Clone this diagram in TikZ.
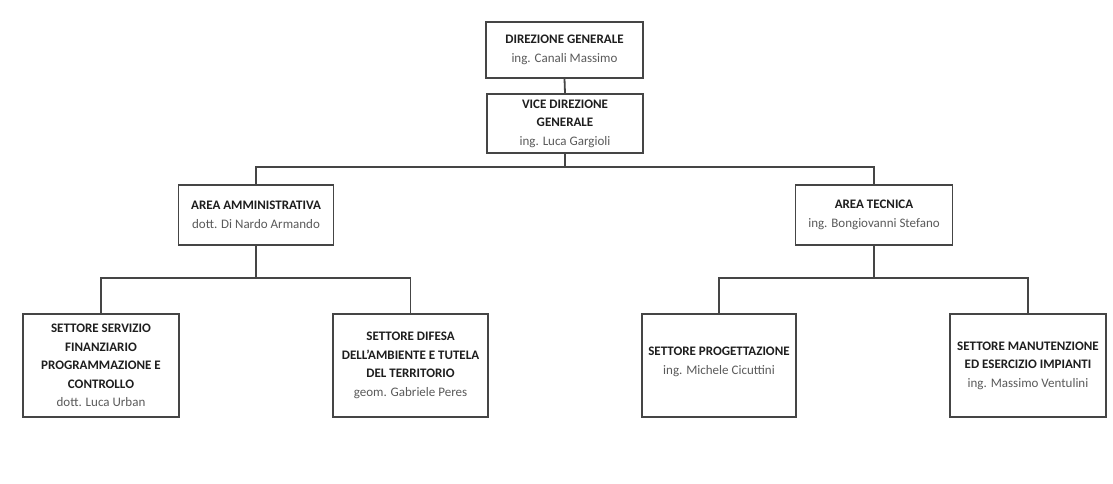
\documentclass[tikz,border=0pt]{standalone}
\usepackage{fontspec}
\setmainfont{Carlito}
\definecolor{boxline}{HTML}{454545}
\definecolor{nametext}{HTML}{5A5A5A}
\definecolor{titletext}{HTML}{1E1E1E}
\begin{document}
\begin{tikzpicture}[x=1pt,y=-1pt,
  orgbox/.style={draw=boxline,line width=1.8pt,fill=white,align=center,inner sep=1pt,
    font=\fontsize{13}{18.5}\selectfont,text=titletext},
  link/.style={draw=boxline,line width=1.8pt}]
\useasboundingbox[fill=white] (0,0) rectangle (1113,483);
\newcommand{\nm}[1]{\textcolor{nametext}{#1}}
\node[orgbox,minimum width=157pt,minimum height=56pt] (dg) at (564.5,50)
  {\textbf{DIREZIONE GENERALE}\\\nm{ing. Canali Massimo}};
\node[orgbox,minimum width=156pt,minimum height=59pt] (vdg) at (565,123.5)
  {\textbf{VICE DIREZIONE}\\\textbf{GENERALE}\\\nm{ing. Luca Gargioli}};
\node[orgbox,minimum width=155pt,minimum height=60pt] (aa) at (256,215)
  {\textbf{AREA AMMINISTRATIVA}\\\nm{dott. Di Nardo Armando}};
\node[orgbox,minimum width=157pt,minimum height=60pt] (at) at (874,215)
  {\textbf{AREA TECNICA}\\\nm{ing. Bongiovanni Stefano}};
\node[orgbox,minimum width=156pt,minimum height=103pt] (s1) at (101,365.5)
  {\textbf{SETTORE SERVIZIO}\\\textbf{FINANZIARIO}\\\textbf{PROGRAMMAZIONE E}\\\textbf{CONTROLLO}\\\nm{dott. Luca Urban}};
\node[orgbox,minimum width=155pt,minimum height=103pt] (s2) at (410.5,365.5)
  {\textbf{SETTORE DIFESA}\\\textbf{DELL'AMBIENTE E TUTELA}\\\textbf{DEL TERRITORIO}\\\nm{geom. Gabriele Peres}};
\node[orgbox,minimum width=154pt,minimum height=103pt] (s3) at (719,365.5)
  {\textbf{SETTORE PROGETTAZIONE}\\\nm{ing. Michele Cicuttini}\\[-9pt]};
\node[orgbox,minimum width=156pt,minimum height=103pt] (s4) at (1028,365.5)
  {\textbf{SETTORE MANUTENZIONE}\\\textbf{ED ESERCIZIO IMPIANTI}\\\nm{ing. Massimo Ventulini}};
\coordinate (j1) at (565,167);
\coordinate (j2) at (256,278);
\coordinate (j3) at (874,278);
\draw[link] (dg.south) -- (vdg.north);
\draw[link] (vdg.south) -- (j1);
\draw[link] (aa.north) |- (j1) -| (at.north);
\draw[link] (aa.south) -- (j2);
\draw[link] (s1.north) |- (j2) -| (s2.north);
\draw[link] (at.south) -- (j3);
\draw[link] (s3.north) |- (j3) -| (s4.north);
\end{tikzpicture}
\end{document}
